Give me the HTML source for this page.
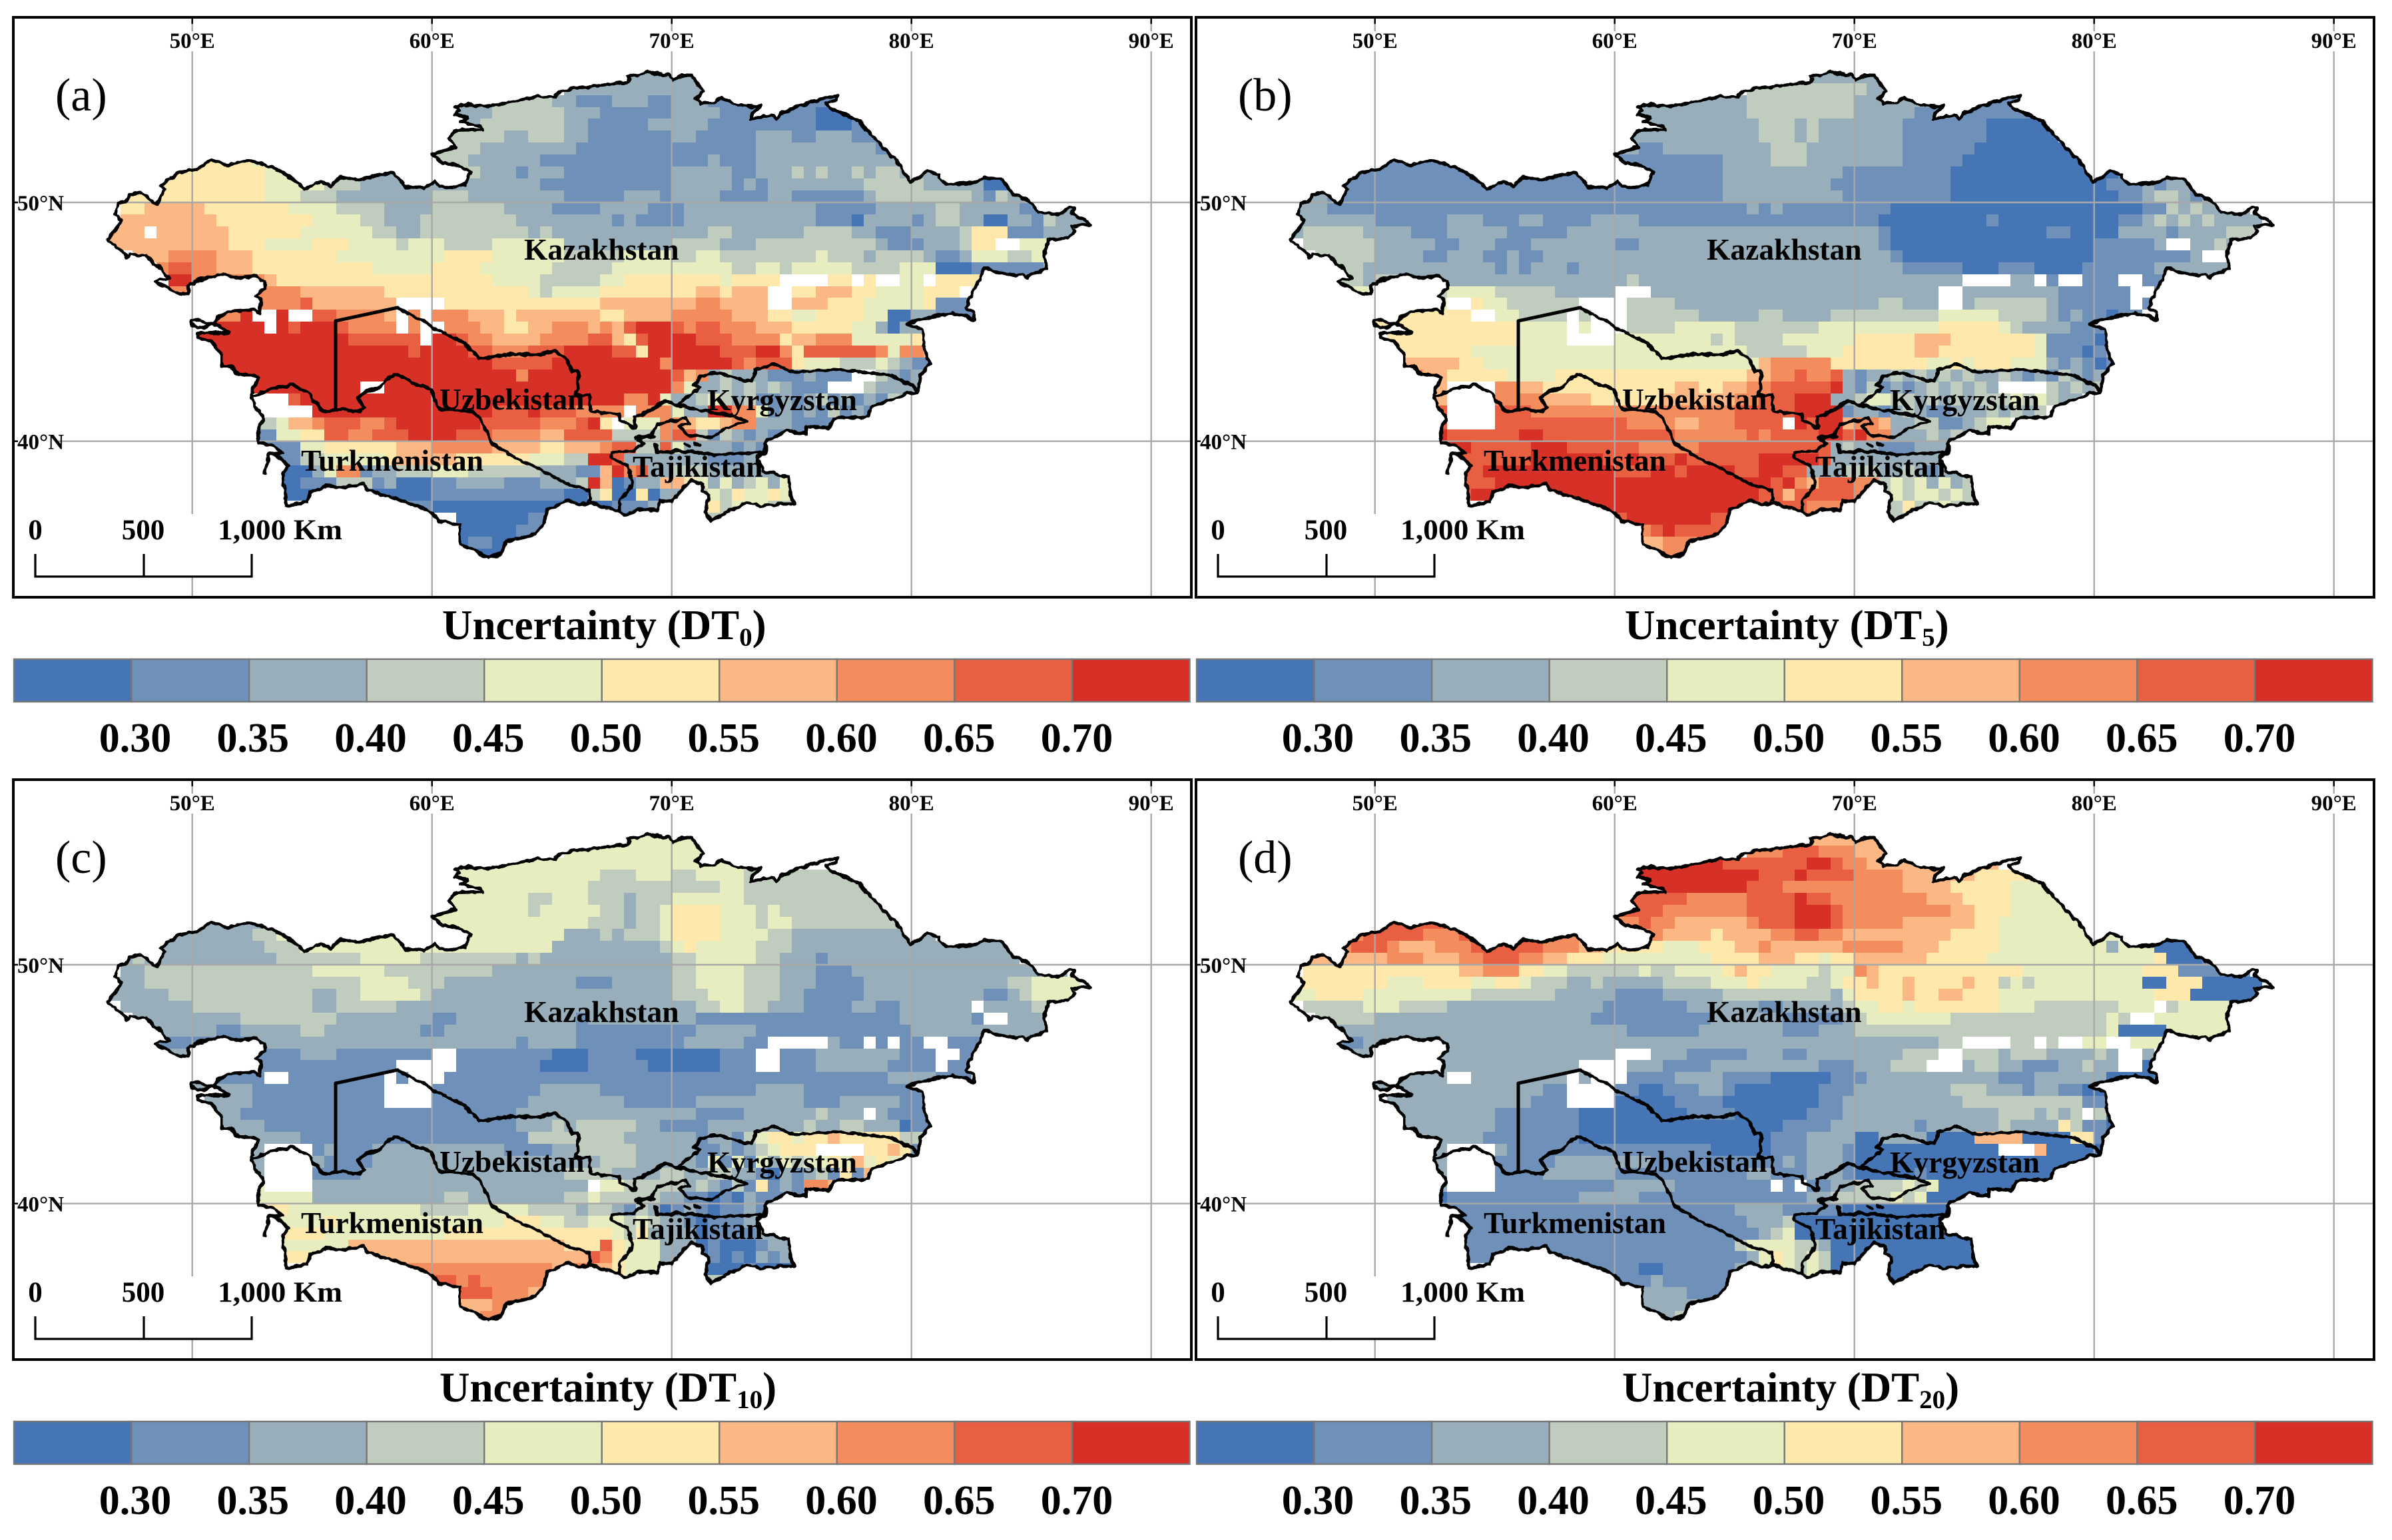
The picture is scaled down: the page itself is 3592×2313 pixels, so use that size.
<!DOCTYPE html>
<html lang="en">
<head>
<meta charset="utf-8">
<title>Uncertainty maps of Central Asia (DT0, DT5, DT10, DT20)</title>
<style>
html,body{margin:0;padding:0;background:#fff}
svg{display:block}
text{font-family:"Liberation Serif",serif;font-weight:bold;fill:#000}
.letter{font-size:70px;font-weight:normal}
.country{font-size:45.5px}
.scale-label{font-size:43px}
.title{font-size:63px}
.sub{font-size:39px}
</style>
</head>
<body>
<svg xmlns="http://www.w3.org/2000/svg" width="3592" height="2313" viewBox="0 0 3592 2313">
<defs>
<clipPath id="country-clip"><path id="country-clip-path" d=""/></clipPath>
<filter id="rough-coast" x="-2%" y="-2%" width="104%" height="104%">
<feTurbulence type="fractalNoise" baseFrequency="0.09" numOctaves="2" seed="3" result="noise"/>
<feDisplacementMap in="SourceGraphic" in2="noise" scale="7" xChannelSelector="R" yChannelSelector="G"/>
</filter>
</defs>

<g class="panel" transform="translate(0,0)">
<g class="layers"></g>
<text class="letter" x="83" y="166">(a)</text>
<text class="country" x="787" y="390">Kazakhstan</text>
<text class="country" x="660" y="615">Uzbekistan</text>
<text class="country" x="1062" y="616">Kyrgyzstan</text>
<text class="country" x="452" y="707">Turkmenistan</text>
<text class="country" x="950" y="716">Tajikistan</text>
<text class="scale-label" x="53" y="810" text-anchor="middle">0</text>
<text class="scale-label" x="215" y="810" text-anchor="middle">500</text>
<text class="scale-label" x="327" y="810" textLength="187" lengthAdjust="spacingAndGlyphs">1,000 Km</text>
<text class="title" x="664" y="960">Uncertainty (DT<tspan class="sub" dy="10">0</tspan><tspan dy="-10">)</tspan></text>
</g>

<g class="panel" transform="translate(1776,0)">
<g class="layers"></g>
<text class="letter" x="83" y="166">(b)</text>
<text class="country" x="787" y="390">Kazakhstan</text>
<text class="country" x="660" y="615">Uzbekistan</text>
<text class="country" x="1062" y="616">Kyrgyzstan</text>
<text class="country" x="452" y="707">Turkmenistan</text>
<text class="country" x="950" y="716">Tajikistan</text>
<text class="scale-label" x="53" y="810" text-anchor="middle">0</text>
<text class="scale-label" x="215" y="810" text-anchor="middle">500</text>
<text class="scale-label" x="327" y="810" textLength="187" lengthAdjust="spacingAndGlyphs">1,000 Km</text>
<text class="title" x="664" y="960">Uncertainty (DT<tspan class="sub" dy="10">5</tspan><tspan dy="-10">)</tspan></text>
</g>

<g class="panel" transform="translate(0,1145)">
<g class="layers"></g>
<text class="letter" x="83" y="166">(c)</text>
<text class="country" x="787" y="390">Kazakhstan</text>
<text class="country" x="660" y="615">Uzbekistan</text>
<text class="country" x="1062" y="616">Kyrgyzstan</text>
<text class="country" x="452" y="707">Turkmenistan</text>
<text class="country" x="950" y="716">Tajikistan</text>
<text class="scale-label" x="53" y="810" text-anchor="middle">0</text>
<text class="scale-label" x="215" y="810" text-anchor="middle">500</text>
<text class="scale-label" x="327" y="810" textLength="187" lengthAdjust="spacingAndGlyphs">1,000 Km</text>
<text class="title" x="660" y="960">Uncertainty (DT<tspan class="sub" dy="10">10</tspan><tspan dy="-10">)</tspan></text>
</g>

<g class="panel" transform="translate(1776,1145)">
<g class="layers"></g>
<text class="letter" x="83" y="166">(d)</text>
<text class="country" x="787" y="390">Kazakhstan</text>
<text class="country" x="660" y="615">Uzbekistan</text>
<text class="country" x="1062" y="616">Kyrgyzstan</text>
<text class="country" x="452" y="707">Turkmenistan</text>
<text class="country" x="950" y="716">Tajikistan</text>
<text class="scale-label" x="53" y="810" text-anchor="middle">0</text>
<text class="scale-label" x="215" y="810" text-anchor="middle">500</text>
<text class="scale-label" x="327" y="810" textLength="187" lengthAdjust="spacingAndGlyphs">1,000 Km</text>
<text class="title" x="660" y="960">Uncertainty (DT<tspan class="sub" dy="10">20</tspan><tspan dy="-10">)</tspan></text>
</g>
</svg>

<script>
// Axis ticks and colour-bar labels
const lonTicks = [50, 60, 70, 80, 90];
const latTicks = [50, 40];
const colorbarTicks = ["0.30", "0.35", "0.40", "0.45", "0.50", "0.55", "0.60", "0.65", "0.70"];

// Heatmap values: uncertainty class per 0.5 degree cell (0 = below 0.30 ... 9 = above 0.70, "." = no data).
// Row n is latitude 55.5 - 0.5n; each space-separated group holds ten longitude columns starting at 46E; "-" = empty group.
const dt0Rows = [
"- - - - ....222222 222",
"- - - .........2 2222222222 2211",
"- - - 3333333322 1112221122 2111111111 1111",
"- - - 2223333332 2211111122 2211111111 0001122",
"- - - 2233333332 2111112222 2111111111 0001122222",
"- - .........3 3333223332 2111111122 1111122211 222111",
"- - ........33 3322222222 1111111111 1111122222 2222211",
".........5 5554444444 .......333 3222222111 1111111111 1211122222 2222222",
".....55555 5555444443 3322222222 3322212221 1111111122 2221122232 3223233222 2",
"..55555555 5555444443 3322222222 2222222111 1111111122 2221212222 2222333332 2222002222 2",
"..55555555 5555444333 2222222233 3222222221 1111222122 2211112211 1111233333 3332132222 22",
"..55666665 5555554444 3333222233 3333222211 1122221112 2222222222 1111122222 3322222112 222",
"..66666666 5555555544 4433222333 3333322222 2221211112 2222222222 1110222212 3322002213 2222",
".666.66666 6555555444 4443322333 3333332322 2222222222 2332222223 3332211122 2235551112 2222",
".666666666 6555444455 5444434443 3334444442 2222222233 3322233333 3333321112 22355..444 44",
"...6667777 6665555555 4444444445 5554444443 3333444433 4433333333 4333233332 1124443344 4",
".....78877 6665555555 5554444455 5544444433 3334444444 4443344344 4443333444 0001111112 2",
"......9977 7777655555 5555555555 5554444333 3344555555 5545555... .55.5..44. 5555555555",
"......7777 7777777666 6666555555 5555554344 4455555555 665666..55 6665544445 55.4444",
"......7777 7777777866 66666....5 5555555555 5566666666 776666..66 6555444445 1112222",
"- 779..9..88 77776.7.77 7666566666 6655666677 7776665544 5555440022 1111",
"- 9999.98999 87777.7..7 7766556677 7676899987 8877766655 5554420222 11",
".......999 9999999999 9888888.99 8776666777 7886589999 8887777566 7774444455 55",
".......999 9999999999 9999998999 9887778889 9998859999 9988899758 8888874776",
"........99 9999999999 9999999999 9998888899 9999999799 9998788854 4433343211",
".........9 9999999999 9999999999 9999979999 9999999986 7232221112 111..32122",
"- 9999999999 99..999999 9999999999 9999999974 2232323211 1...322222",
"- ......8999 9999999999 9999999999 9999779422 3432311212 3121213222",
"- ........99 9999999999 9998889888 7777.77742 2997741212 1312132121",
"- 3333346678 8877899999 9988888777 895.444776 5567722211 1121211111",
"- 1111144558 8778889999 8887777668 8883333788 3132121112",
"- 1111111445 5555566677 7776666556 6678833842 2221212222",
"- 1111111334 4444566666 5555554443 3998222222 2111222222",
"- 0000000024 7712233344 4333333222 1169782233 3222222222",
"- 0000000111 3331200011 2222111222 3960122665 4242342423",
"- 0000000000 0000000011 1111111110 0350050225 3435445434",
"- - 1111111100 0000000000 0001112223 4534443344",
"- - - 0000001110 0000000000 3333",
"- - - 0000011000",
"- - - 0110000000",
"- - - 0000000000"
];
const dt5Rows = [
"- - - - ....222222 222",
"- - - .........3 3333333332 2211",
"- - - 2222222223 3333333322 2222222111 1111",
"- - - 2222222223 3333333322 2221111111 1111",
"- - - 2222222222 3332322222 2211111110 0000000",
"- - .........2 2222222222 3332322222 2211111110 00000",
"- - ........22 1122222222 2333222222 2211111100 000000",
".........1 1111111111 ........11 1111111222 2333222222 2211111000 00000000",
".....11111 1111111111 1111111111 1111111222 2222222111 1111110000 0000000000 1",
"...1111111 1111111111 1111111111 1111111222 2222221111 1111110000 0000000001 1121222222 2",
"..22111111 1111111111 1111111111 1111111222 2222222111 1111110000 0000000000 1123321222 2",
".222111111 1111111111 1111111111 1111111112 1211111111 1000000000 0000000000 0011323221 2",
".222222211 1111222111 2211112222 1111111111 1111111111 0000000001 0000000000 1123232322 22",
".233333222 2111222221 1111222222 2222222222 2222222222 1000000000 0000110000 2222122223 33",
"..33333322 2221122211 1222222211 2222222222 2222222222 1000000000 0000000011 1112..2232",
"...3333322 2211222112 1122222222 2222222222 2222222222 2100000000 0000000011 1111112..2",
"....333222 2222222212 1222122222 2222222222 2222222222 2211111000 1110000111 1112222222",
".....33233 2222222222 2222222223 2222222222 2222222222 2222222... .22.1..111 ..11111",
"......4444 3333444433 33322222.. .222222222 2222222222 22222..222 2222211111 1..1111",
"- 4444..5443 33333....3 3332222222 2222222222 33222..233 3333211111 1.1001",
"........55 555555..44 3333.3...3 3333322222 3322223333 3333344444 3333212110 11",
"........55 5555555555 4444.4...3 3334444433 3333344444 4444455555 4322221110 1",
".........5 5555555555 4444....44 4444443433 3344444455 5556665555 5554111101 1",
"- 5555554444 4444444444 4444444443 3333444555 5556655555 5554111012 1",
"- 6666655444 4444444444 4444444444 6777775555 5555445455 5444212101",
"- 7766555554 4445555555 5555555556 6778778212 2323232322 3212132121",
"- 6666....77 6655555555 5556655667 7888889213 1212323232 ....323232",
"- 7666....77 7766665555 5566666677 8889992234 4332323233 3434322",
"- 8888....88 8777777777 7777777788 8889999122 1232112223 2323",
"- 8888....88 8888888887 7776677788 88.9899677 6223311234 4",
"- 9999888888 9988888888 8887777778 7888899897 7222323232",
"- 9999998888 8999888888 7777788888 8888882322 1112222122",
"- 9999988888 8999999889 8889888888 9999982222 2222222222",
"- 7778888999 9999999988 8998999988 9988222333 2232122222",
"- 4478888899 9999999999 9999999999 9897688877 3434242324",
"- 2467889999 9999999999 9999999999 8868888876 3434434343",
"- - 9999999999 9999999998 8888777765 435334333",
"- - ....998889 9999998888 888888 3333",
"- - - 7898888888",
"- - - 6677778",
"- - - 6677"
];
const dt10Rows = [
"- - - - ....444444 444",
"- - - .........4 4444444444 4444",
"- - - 4444444444 4444444444 4444333",
"- - - 4444444444 4433344433 4444333333 3333",
"- - - 4444444444 4333333333 3344333333 33333",
"- - .........4 4444443344 4333233344 4444333333 333333",
"- - ........44 4444443444 4433233455 5544434333 33333333",
".........2 2222222222 .......444 4444444444 4333233455 5544434433 3333333",
".....22222 2223344444 4444444444 4444444442 2232333455 5544443322 2222222222",
"...2222222 2222333444 4444444444 4444444422 2222222345 4444433322 2222222222 2222222222",
"..23222222 2222233333 3344444333 3333323222 2222222233 4444433222 1222222222 2222222",
"..22333333 3333333344 4444333333 3332222222 2222222233 4444333222 1112222222 2222222222 2",
".222333333 3333333333 3344443332 2222222222 1112222233 4444333222 1111222222 2222223344 44",
".222223333 3333333322 3344444322 2222222222 2222222233 3444333221 1111222222 2222112344 44",
"..22222233 3333333322 3333322222 2222222222 2222222222 3344332221 1112211222 222.222233",
"...2222222 2233333333 2222222211 2222222222 1222222222 1111111111 1111111222 2221..2222",
"....222222 1122222332 2222222112 2222222222 1111111111 2222211111 1111111122 2222222222",
".....11111 1112222222 2222222222 2222212222 1111111112 222211.... .211.1.11. .11111",
"......2222 1111111222 11111111.. 1111111100 0111100000 00111..111 2222222111 ..1111",
"- 1111111111 11111..... 1111111000 0111110000 00111..111 2222221111 .1111",
"........11 1111..1111 1111.1...1 1111111111 1111111111 1111111111 1111112222 111",
"........22 2221111111 1111....11 1111111222 2211111111 1111122221 1111111111",
".........2 2221111111 1111....11 1111112222 2222111111 2222222221 1122222111",
"- 2211111111 1111111111 1111122222 2222222222 1111222222 3222.21111",
"- 2222111111 1111111111 1111122232 3333322111 1222222223 2233222011",
"- 2222222111 1111111111 1111113333 3333222222 1221345545 5655555333",
"- 2222....12 1112222222 2222111122 3333322222 1121234555 ....556515",
"- 2222....21 1112222222 2222222222 2233322222 1414142434 4546454515",
"- 2222....11 1122222222 2222222223 3332222332 2332210212 3151615210",
"- 4444....22 2222222222 2222222222 2.44333332 3213151217 7621",
"- 4444444422 2222222223 3222222223 3433333221 101021111",
"- 5555554444 4444444333 3444443333 2332132012 101121111",
"- 5555544445 4444444444 4444555443 3444343221 011121222",
"- 5555555554 4444444445 5555555555 5554352222 011112222",
"- 5555544444 4666666666 6666666665 5585444222 010001222",
"- 5555555544 6676666666 6666666666 6875444222 010102122",
"- - 7766767777 7777777767 7665444 000010000",
"- - 7777778888 7877777776 - 3333",
"- - - 8887776666",
"- - - 6667766",
"- - - 6677665"
];
const dt20Rows = [
"- - - - ....666666 666",
"- - - .........7 7788877766 6776",
"- - - 9999999888 8888998776 6666666666",
"- - - 9999999999 8889888877 7766666655 5555",
"- - - 9999999998 8877777777 7766665555 54444",
"- - .........8 8888777778 8889887777 7777666555 544444",
"- - ........88 8877777778 8889998777 7777776655 5444444",
".........8 8888888888 .......777 8776666667 8889998777 7766666655 44444444",
".....77888 8877788888 8877777665 7766665666 6778877666 6666665555 4444444444",
"...7778887 6667778888 8877766555 5544455566 7666666777 7766655555 4444444442 444000011",
"..66666667 7766677888 7766555444 4444445555 6665545566 6666555554 4444444444 4445000111",
"..55555555 5555566777 5544333333 4334444565 5444434476 5555555555 5544444444 4455511111 1",
".555555554 4455554455 4333223222 2233334445 4444334556 5565555655 3434444444 4400555000 00",
".445555444 4444443333 3332222211 1122222333 3333332455 5565566555 4444444444 4445550000 00",
"..33333444 3333222222 2222222111 1111222222 1122222344 5545555555 4443333333 444.344444",
"...3333322 2222222222 2222221111 1111112222 2211111234 4444443333 3333333334 3..4444444",
"....222222 2222222222 2222222221 1111122222 2211122233 3333333333 3333333334 0000444444",
".....11222 2222222222 2222222222 2222222222 2222222222 2222233... .33.3..44. .44444",
"......2222 2222222222 22222222.. .222111112 2211222222 22333..333 2333222232 ..2..",
"- 2222222222 22222....2 2211112222 2222211122 2333...233 2211122322 ..00",
"........11 2222..2222 2222.2...1 1112222111 1000001112 2222222222 1112222220 0001",
"........22 2222222222 2211....11 0011122100 0000011122 2222223332 2212211000 0",
".........2 2222222222 2111....00 0001111000 0000011222 2222222333 3333333110 0",
"- 2222222211 1111100000 0000111100 0000111222 2222222222 3332323.30 0",
"- 2222222211 1111100000 0000000000 0011112222 2221222222 3222253110",
"- 2222222111 1111100000 0000000000 0111222200 2222000066 6600005511",
"- 2222....21 1111111111 1111110000 0111222100 0000000000 ...6000000",
"- 2222....11 1112222222 2111111111 1121222100 0000000000 0000000000",
"- 2222....11 1122222211 1111111112 2111222100 0001000000 000000",
"- 2222....11 1111111122 2221111111 1.1.112233 3343400000 0000",
"- 1010111111 1111122222 1111111111 1111223333 343400000",
"- 1111111111 1111111111 1111111122 2211111000 000000000",
"- 1111111111 1111111111 1111111112 2230000000 000000000",
"- 1111111111 1111111111 1111111111 2340000000 000000000",
"- 2211111111 1111111111 1111111134 4443320000 000000000",
"- 3211111111 1111111111 1111111112 4543430000 000000000",
"- - 1111101111 0011111123 4543430000 000000000",
"- - 1111111111 1211111112 - 0000",
"- - - 2222111111",
"- - - 2222223",
"- - - 2223"
];
const panelRows = [dt0Rows, dt5Rows, dt10Rows, dt20Rows];

// Styling and basemap geometry
const palette = ["#4575b5","#6f90b8","#98aebb","#c0ccbe","#e7edbf","#fee8ab","#fbb884","#f48d5e","#e86041","#d73027"];
const outerBorder = "M195,292L212,289 235,307 247,285 241,280 266,260 296,254 316,240 344,248 373,240 411,252 425,259 450,277 457,285 482,272 497,280 511,266 540,270 568,263 591,260 609,280 637,283 653,272 660,280 677,282 698,277 708,258 683,247 665,245 650,233 660,227 685,220 673,207 685,196 725,195 722,190 692,183 703,177 682,172 690,165 683,162 695,157 737,160 762,153 810,145 833,147 837,140 860,133 927,125 945,122 942,115 960,113 973,108 1003,113 1010,120 1023,113 1040,113 1047,127 1057,137 1052,140 1045,148 1052,155 1070,155 1083,147 1107,158 1130,160 1143,158 1130,170 1128,180 1157,172 1167,180 1173,170 1202,158 1237,148 1258,143 1257,150 1240,155 1247,162 1290,182 1317,212 1347,243 1368,273 1383,265 1393,257 1410,262 1410,267 1422,277 1463,275 1478,267 1505,270 1522,293 1547,302 1558,318 1590,322 1607,312 1613,312 1610,320 1632,333 1637,338 1610,340 1613,347 1603,357 1577,360 1568,377 1572,405 1547,412 1542,418 1535,413 1507,412 1478,403 1450,463 1463,470 1463,480 1443,473 1430,470 1370,483 1362,488 1385,493 1387,520 1397,547 1382,563 1378,590 1363,590 1347,597 1310,610 1302,627 1257,627 1252,628 1244,643 1211,640 1211,652 1183,647 1150,663 1150,680 1138,687 1146,707 1183,717 1187,743 1193,757 1171,757 1142,760 1122,755 1085,772 1069,783 1060,770 1064,743 1054,737 1056,727 1038,722 1020,740 1009,753 991,752 987,767 958,765 938,773 928,767 909,763 889,755 869,758 854,752 822,765 815,790 797,805 760,813 754,830 732,838 713,827 691,818 691,788 660,783 650,772 627,760 597,750 553,737 547,727 517,732 490,730 467,740 460,753 430,760 425,710 433,700 415,683 403,683 398,710 403,683 423,680 413,670 388,665 387,647 397,628 383,610 377,593 388,567 380,563 358,563 347,550 333,550 333,533 317,513 298,507 297,500 343,500 327,488 310,485 300,480 288,482 288,488 303,493 318,487 335,472 350,467 380,465 390,470 392,450 383,445 398,433 397,422 383,415 353,417 337,412 293,422 283,430 283,440 273,442 253,433 233,423 240,419 253,418 240,400 230,397 220,383 195,383 190,388 182,375 162,360 183,333 173,323 177,307 192,300Z";
const innerBorders = [
"M377,597L380,595 413,582 440,578 463,590 477,608 487,618 503,615 542,618 547,613 538,597 550,588 567,583 575,575 583,567 598,563 623,577 647,583 654,603 660,615 709,618 720,627 734,653 736,663 783,693 803,700 848,725 885,737 885,753",
"M597,462L667,500 693,513 720,538 767,532 810,533 833,527 853,543 858,558 868,557 868,577 865,593 885,593 887,617 930,622 932,632 954,643 952,627 971,620 999,602 1016,608 1052,582 1042,577 1052,565 1073,560 1130,573 1134,555 1162,547 1195,560 1253,555 1337,563 1357,575 1370,578 1378,590",
"M1016,608L1069,620 1097,623 1122,633 1089,643 1069,657 1032,653 1020,640 1036,637 1028,627 1007,633 987,637 979,653 958,660 967,667 950,677 918,680 918,688 942,700 950,727 930,753 930,767",
"M954,657L983,655M985,667L987,680 1020,677 1048,680 1073,683 1146,680 1150,663",
"M1028,667l6,4M1044,667l6,1"
];
const straightBorder = "M504,615L504,482 597,462";

const NS = "http://www.w3.org/2000/svg";
function xOf(lon) { return 288.7 + (lon - 50) * 36; }
function yOf(lat) { return 304 + (50 - lat) * 35.87; }
function mk(tag, attrs, parent) {
  const e = document.createElementNS(NS, tag);
  for (const k in attrs) e.setAttribute(k, attrs[k]);
  parent.appendChild(e);
  return e;
}

document.getElementById("country-clip-path").setAttribute("d", outerBorder);

document.querySelectorAll(".panel").forEach(function (panel, p) {
  const layers = panel.querySelector(".layers");

  // heatmap cells
  const cells = mk("g", {"clip-path": "url(#country-clip)", "shape-rendering": "crispEdges"}, layers);
  
  
  panelRows[p].forEach(function (row, r) {
    const lat = 55.5 - 0.5 * r;
    const y0 = Math.round(yOf(lat));
    const y1 = Math.round(yOf(lat - 0.5));
    row.split(" ").forEach(function (group, g) {
      if (group === "-") return;
      for (let j = 0; j < group.length; j++) {
        const v = group[j];
        if (v === ".") continue;
        const lon = 46 + 0.5 * (g * 10 + j);
        const x0 = Math.round(xOf(lon));
        const x1 = Math.round(xOf(lon + 0.5));
        const cell = mk("rect", {x: x0, y: y0, width: x1 - x0, height: y1 - y0, fill: palette[+v]}, cells);
        
        
      }
    });
  });

  // graticule
  lonTicks.forEach(function (lon) {
    const x = xOf(lon);
    const line = mk("line", {x1: x, x2: x, y1: 26, y2: 897, stroke: "#a8a8a8", "stroke-width": 2.4}, layers);
    
    
    const tick = mk("line", {x1: x, x2: x, y1: 26, y2: 36, stroke: "#000", "stroke-width": 2.5}, layers);
    
    
  });
  latTicks.forEach(function (lat) {
    const y = yOf(lat);
    const line = mk("line", {x1: 20, x2: 1789, y1: y, y2: y, stroke: "#a8a8a8", "stroke-width": 2.4}, layers);
    
    
    const tick = mk("line", {x1: 20, x2: 30, y1: y, y2: y, stroke: "#000", "stroke-width": 2.5}, layers);
    
    
  });

  // tick labels
  lonTicks.forEach(function (lon) {
    const x = xOf(lon);
    const bg = mk("rect", {x: x - 36, y: 47, width: 72, height: 30, fill: "#fff"}, layers);
    
    
    const t = mk("text", {x: x, y: 72, "text-anchor": "middle", "font-size": 33}, layers);
    t.textContent = lon + "°E";
    
    
  });
  latTicks.forEach(function (lat) {
    const y = yOf(lat);
    const bg = mk("rect", {x: 27, y: y - 15, width: 56, height: 30, fill: "#fff"}, layers);
    
    
    const t = mk("text", {x: 26, y: y + 12, "font-size": 33}, layers);
    t.textContent = lat + "°N";
    
    
  });

  // white box around the scale bar (interrupts the 50E gridline)
  const box = mk("rect", {x: 30, y: 772, width: 490, height: 94, fill: "#fff"}, layers);
  
  

  // country borders
  const rough = mk("g", {filter: "url(#rough-coast)"}, layers);
  
  
  const outer = mk("path", {d: outerBorder, fill: "none", stroke: "#000", "stroke-width": 5, "stroke-linejoin": "round"}, rough);
  
  
  innerBorders.forEach(function (d) {
    const b = mk("path", {d: d, fill: "none", stroke: "#000", "stroke-width": 5, "stroke-linejoin": "round", "stroke-linecap": "round"}, rough);
    
    
  });
  const straight = mk("path", {d: straightBorder, fill: "none", stroke: "#000", "stroke-width": 5, "stroke-linejoin": "round", "stroke-linecap": "round"}, layers);
  
  

  // scale bar
  const bar = mk("path", {d: "M53,832V866H378V832M216,832V866", fill: "none", stroke: "#000", "stroke-width": 3.2}, layers);
  
  

  // frame
  const frame = mk("rect", {x: 20, y: 26, width: 1769, height: 871, fill: "none", stroke: "#000", "stroke-width": 4}, layers);
  
  

  // colour bar
  palette.forEach(function (color, i) {
    const seg = mk("rect", {x: 21 + i * 176.55, y: 990, width: 176.55, height: 64, fill: color, stroke: "#777", "stroke-width": 2.4}, layers);
    
    
  });
  colorbarTicks.forEach(function (label, i) {
    const t = mk("text", {x: 203 + i * 176.75, y: 1129, "text-anchor": "middle", "font-size": 62}, layers);
    t.textContent = label;
    
    
  });
});
</script>
</body>
</html>
